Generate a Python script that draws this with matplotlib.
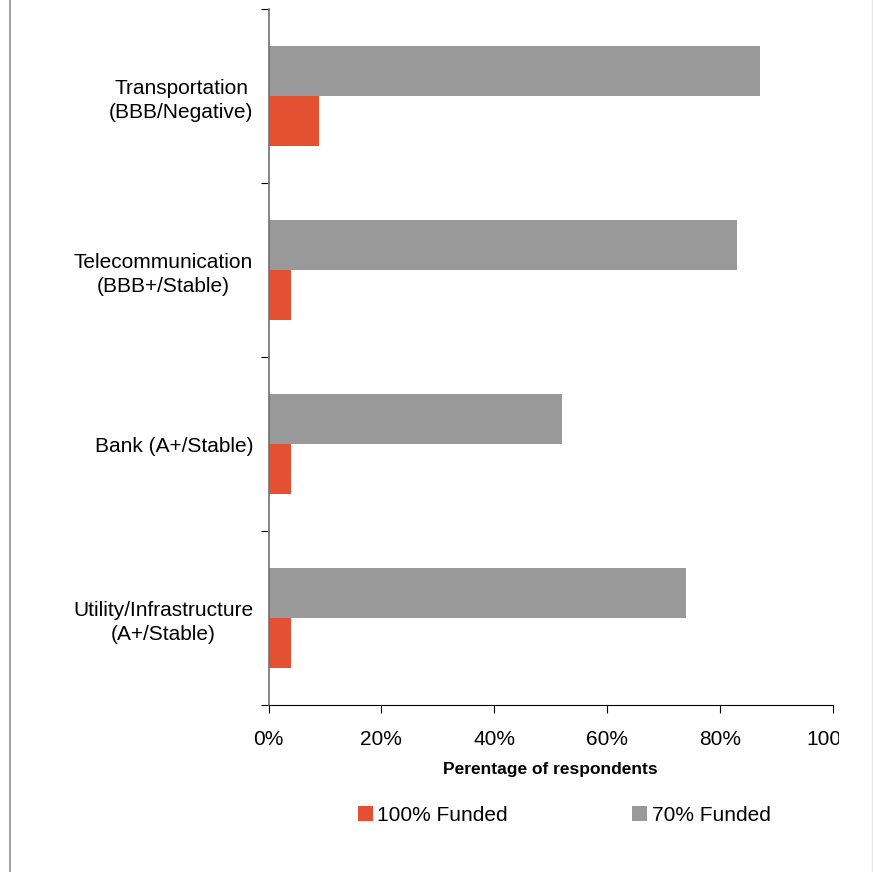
import matplotlib
matplotlib.use("Agg")
import matplotlib.pyplot as plt
from matplotlib.lines import Line2D
from matplotlib.transforms import Bbox, TransformedBbox
import numpy as np

plt.rcParams['font.family'] = ['Liberation Sans', 'DejaVu Sans']

# categories listed bottom to top
categories = ["Utility/Infrastructure\n(A+/Stable)", "Bank (A+/Stable)",
              "Telecommunication\n(BBB+/Stable)", "Transportation\n(BBB/Negative)"]
funded_100 = [4, 4, 4, 9]
funded_70 = [74, 52, 83, 87]
xticks = [0, 20, 40, 60, 80, 100]
xtick_labels = ["0%", "20%", "40%", "60%", "80%", "100%"]

red = "#E45132"
grey = "#999999"

fig = plt.figure(figsize=(8.73, 8.72), dpi=100)
ax = fig.add_axes([268.5/873, 1-705/872, (833-268.5)/873, (705-9)/872])

y = np.arange(len(categories))
h = 0.287
ax.barh(y + h/2, funded_70, height=h, color=grey, label="70% Funded")
ax.barh(y - h/2, funded_100, height=h, color=red, label="100% Funded")

ax.set_xlim(0, 100)
ax.set_ylim(-0.5, len(categories) - 0.5)

ax.set_yticks(np.arange(-0.5, len(categories), 1.0))
ax.set_yticklabels([])
ax.set_yticks(y, minor=True)
ax.set_yticklabels(categories, minor=True, fontsize=15, ha="right",
                   multialignment="center", linespacing=1.3)
ax.tick_params(axis="y", which="minor", length=0, pad=11)
ax.tick_params(axis="y", which="major", length=6, direction="out", color="black")

ax.set_xticks(xticks)
ax.set_xticklabels(xtick_labels, fontsize=15)
ax.tick_params(axis="x", length=6, direction="out", pad=12)

for s in ["top", "right"]:
    ax.spines[s].set_visible(False)
ax.spines["left"].set_color("#707070")
ax.spines["left"].set_linewidth(1.2)
ax.spines["bottom"].set_color("black")

ax.set_xlabel("Perentage of respondents", fontsize=12.5, fontweight="bold", labelpad=9)

# last tick label is cut off at the chart edge in the original
clip = TransformedBbox(Bbox([[0, 0], [838.5/873, 1]]), fig.transFigure)
lab = ax.get_xticklabels()[-1]
lab.set_clip_on(True)
lab.set_clip_box(clip)

handles, labels = ax.get_legend_handles_labels()
fig.legend(handles[::-1], labels[::-1], loc="center", bbox_to_anchor=(564/873, 1-815/872),
           ncol=2, frameon=False, fontsize=15, handlelength=0.72, handleheight=0.72,
           handletextpad=0.2, columnspacing=6.0)

fig.add_artist(Line2D([9.5/873, 9.5/873], [0, 1], transform=fig.transFigure, color="#909090", lw=1.2))
fig.add_artist(Line2D([872/873, 872/873], [0, 1], transform=fig.transFigure, color="#e6e6e6", lw=1.0))

fig.savefig("out.png", dpi=100)
